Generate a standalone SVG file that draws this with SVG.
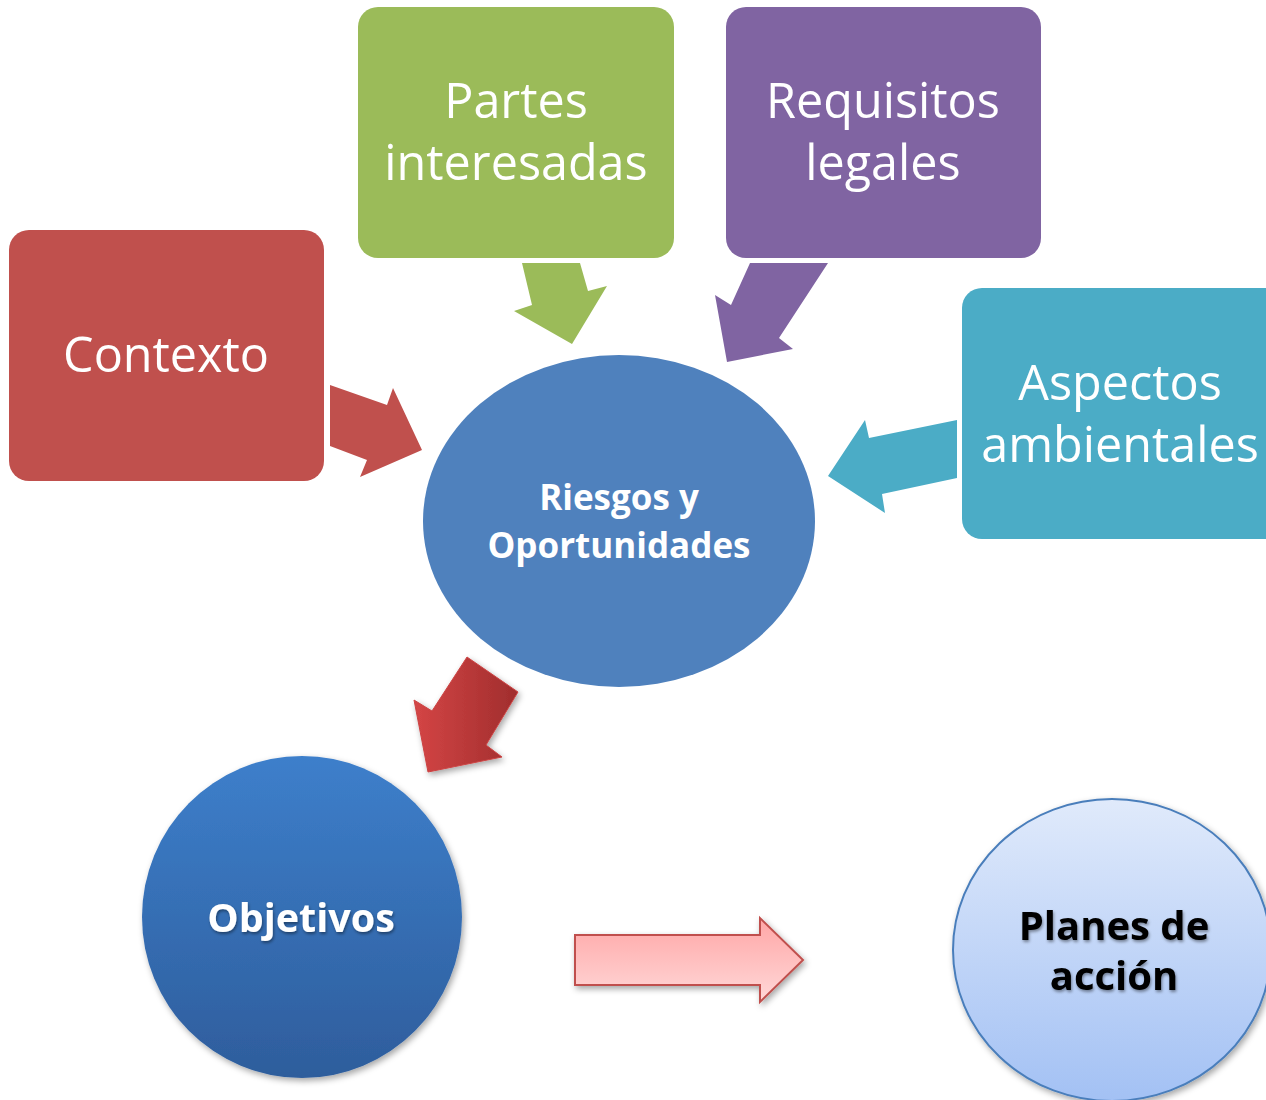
<svg xmlns="http://www.w3.org/2000/svg" width="1266" height="1100" viewBox="0 0 1266 1100">
<style>
.box{stroke:none}
.lbl{font-family:"Open Sans","Noto Sans",sans-serif;fill:#fff;text-anchor:middle;font-size:48.5px}
.bold{font-family:"Open Sans","Noto Sans",sans-serif;font-weight:bold;text-anchor:middle}
</style>
<defs>
<linearGradient id="gObj" x1="0" y1="0" x2="0" y2="1"><stop offset="0" stop-color="#3d7fcb"/><stop offset="1" stop-color="#2e5d9c"/></linearGradient>
<linearGradient id="gPlan" x1="0" y1="0" x2="0" y2="1"><stop offset="0" stop-color="#e0eafb"/><stop offset="1" stop-color="#a3c1f4"/></linearGradient>
<linearGradient id="gRed" x1="0" y1="0" x2="1" y2="0"><stop offset="0" stop-color="#d44545"/><stop offset="1" stop-color="#a02d2d"/></linearGradient>
<linearGradient id="gPink" x1="0" y1="0" x2="0" y2="1"><stop offset="0" stop-color="#ffa6a6"/><stop offset="1" stop-color="#ffd8d8"/></linearGradient>
<filter id="sh" x="-20%" y="-20%" width="140%" height="140%"><feDropShadow dx="2" dy="3" stdDeviation="3" flood-color="#000" flood-opacity="0.35"/></filter>
<filter id="tsh" x="-10%" y="-20%" width="120%" height="150%"><feDropShadow dx="1" dy="2" stdDeviation="1.5" flood-color="#000" flood-opacity="0.4"/></filter>
</defs>
<g id="connectors">
<polygon fill="#c0504d" points="330,385 387,405 393,388 422,450 360,477 367,460 330,446"/>
<polygon fill="#9bbb59" points="522,263 580,263 588,291 607,286 572,344 514,311 532,305"/>
<polygon fill="#8064a2" points="750,263 828,263 779,338 793,349 727,362 715,295 731,305"/>
<polygon fill="#4bacc6" points="957,420 869,438 865,420 828,476 885,513 882,494 957,478"/>
<polygon fill="url(#gRed)" stroke="#c44" stroke-width="1" filter="url(#sh)" points="467,657 518,692 486,745 502,757 428,772 414,700 432,711"/>
<polygon fill="url(#gPink)" stroke="#c0504d" stroke-width="2" filter="url(#sh)" points="575,935 760,935 760,918 803,960 760,1002 760,985 575,985"/>
</g>
<g id="contexto">
<rect class="box" x="9" y="230" width="315" height="251" rx="20" fill="#c0504d"/>
<text class="lbl" x="166" y="372">Contexto</text>
</g>
<g id="partes">
<rect class="box" x="358" y="7" width="316" height="251" rx="20" fill="#9bbb59"/>
<text class="lbl" x="516" y="118">Partes</text>
<text class="lbl" x="516" y="180">interesadas</text>
</g>
<g id="requisitos">
<rect class="box" x="726" y="7" width="315" height="251" rx="20" fill="#8064a2"/>
<text class="lbl" x="883" y="118">Requisitos</text>
<text class="lbl" x="883" y="180">legales</text>
</g>
<g id="aspectos">
<rect class="box" x="962" y="288" width="330" height="251" rx="20" fill="#4bacc6"/>
<text class="lbl" x="1120" y="400">Aspectos</text>
<text class="lbl" x="1120" y="462">ambientales</text>
</g>
<g id="riesgos">
<ellipse cx="619" cy="521" rx="196" ry="166" fill="#4f81bd"/>
<text class="bold" x="619" y="510" font-size="35" fill="#fff">Riesgos y</text>
<text class="bold" x="619" y="558" font-size="35" fill="#fff">Oportunidades</text>
</g>
<g id="objetivos">
<ellipse cx="302" cy="917" rx="160" ry="161" fill="url(#gObj)" filter="url(#sh)"/>
<text class="bold" x="301" y="932" font-size="39.5" fill="#fff" filter="url(#tsh)">Objetivos</text>
</g>
<g id="planes">
<ellipse cx="1112" cy="950" rx="159" ry="151" fill="url(#gPlan)" stroke="#4a7ebb" stroke-width="2" filter="url(#sh)"/>
<text class="bold" x="1114" y="940" font-size="40" fill="#000" filter="url(#tsh)">Planes de</text>
<text class="bold" x="1114" y="990" font-size="40" fill="#000" filter="url(#tsh)">acción</text>
</g>
</svg>
